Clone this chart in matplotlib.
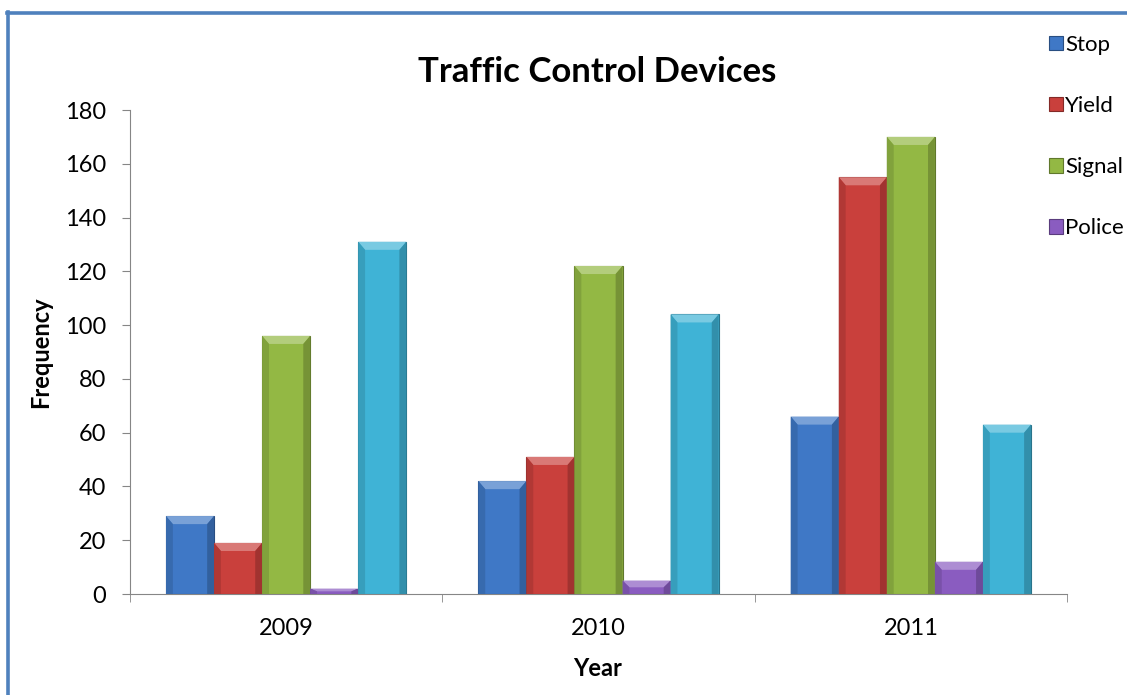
import numpy as np
import matplotlib
matplotlib.use("Agg")
import matplotlib.pyplot as plt
from matplotlib.patches import Polygon
from matplotlib.lines import Line2D
from matplotlib.colors import to_rgb

# data
years = ["2009", "2010", "2011"]
series_names = ["Stop", "Yield", "Signal", "Police", "Other"]
stop = [29, 42, 66]
yld = [19, 51, 155]
signal = [96, 122, 170]
police = [2, 5, 12]
other = [131, 104, 63]
colors = ["#3f78c6", "#c9403c", "#93b844", "#8a5cc0", "#3fb3d6"]

plt.rcParams['font.family'] = ['Lato', 'DejaVu Sans']

fig = plt.figure(figsize=(11.27, 6.95), dpi=100)
ax = fig.add_axes([0.1153, 0.1453, 0.8315, 0.6964])

x = np.arange(len(years))
n = len(series_names)
w = 1 / (n + 1.5)
values = [stop, yld, signal, police, other]

def lighten(c, f):
    r, g, b = to_rgb(c)
    return (r + (1 - r) * f, g + (1 - g) * f, b + (1 - b) * f)

def darken(c, f):
    r, g, b = to_rgb(c)
    return (r * (1 - f), g * (1 - f), b * (1 - f))

bev_y = 3.0
bev_x = 0.022
for i, (name, vals, col) in enumerate(zip(series_names, values, colors)):
    pos = x + (i - (n - 1) / 2) * w
    label = name if name != "Other" else "_nolegend_"
    ax.bar(pos, vals, width=w, color=col, edgecolor=darken(col, 0.35),
           linewidth=0.8, label=label, zorder=3)
    for p, v in zip(pos, vals):
        l, r = p - w / 2, p + w / 2
        hb = min(bev_y, v / 2)
        # top bevel
        ax.add_patch(Polygon([(l, v), (r, v), (r - bev_x, v - hb), (l + bev_x, v - hb)],
                             closed=True, color=lighten(col, 0.3), lw=0, zorder=4))
        # side shading
        ax.add_patch(Polygon([(l, 0), (l, v), (l + bev_x, v - hb), (l + bev_x, 0)],
                             closed=True, color=darken(col, 0.12), lw=0, zorder=4))
        ax.add_patch(Polygon([(r, 0), (r, v), (r - bev_x, v - hb), (r - bev_x, 0)],
                             closed=True, color=darken(col, 0.2), lw=0, zorder=4))

ax.set_xlim(-0.5, len(years) - 0.5)
ax.set_ylim(0, 180)
ax.set_yticks(range(0, 181, 20))
ax.set_xticks(x)
ax.set_xticklabels(years)
ax.set_xticks(np.arange(-0.5, len(years)), minor=True)
ax.tick_params(axis='x', which='major', length=0, pad=17, labelsize=17)
ax.tick_params(axis='x', which='minor', length=6, color='#868686', direction='out')
ax.tick_params(axis='y', length=6, color='#868686', direction='out', labelsize=17, pad=11)
for s in ["top", "right"]:
    ax.spines[s].set_visible(False)
for s in ["left", "bottom"]:
    ax.spines[s].set_color('#868686')

fig.text(598 / 1127, 1 - 668 / 695, "Year", ha='center', va='center',
         fontweight='bold', fontsize=17)
fig.text(41 / 1127, 1 - 352 / 695, "Frequency", ha='center', va='center',
         rotation=90, fontweight='bold', fontsize=17)
fig.text(0.53, 1 - 72 / 695, "Traffic Control Devices", ha='center', va='center',
         fontweight='bold', fontsize=25)

leg = ax.legend(loc='upper left', bbox_to_anchor=(1049 / 1127, 1 - 35 / 695),
                bbox_transform=fig.transFigure, frameon=False,
                fontsize=16, handlelength=0.62, handleheight=0.62,
                handletextpad=0.1, labelspacing=1.85, borderaxespad=0,
                borderpad=0)

# frame lines on the left and top of the chart area
fig.add_artist(Line2D([0.0075, 0.0075], [0, 0.983], color='#4f81bd', lw=2.6))
fig.add_artist(Line2D([0.0062, 1.0], [0.982, 0.982], color='#4f81bd', lw=2.6))

fig.savefig("out.png", dpi=100)
